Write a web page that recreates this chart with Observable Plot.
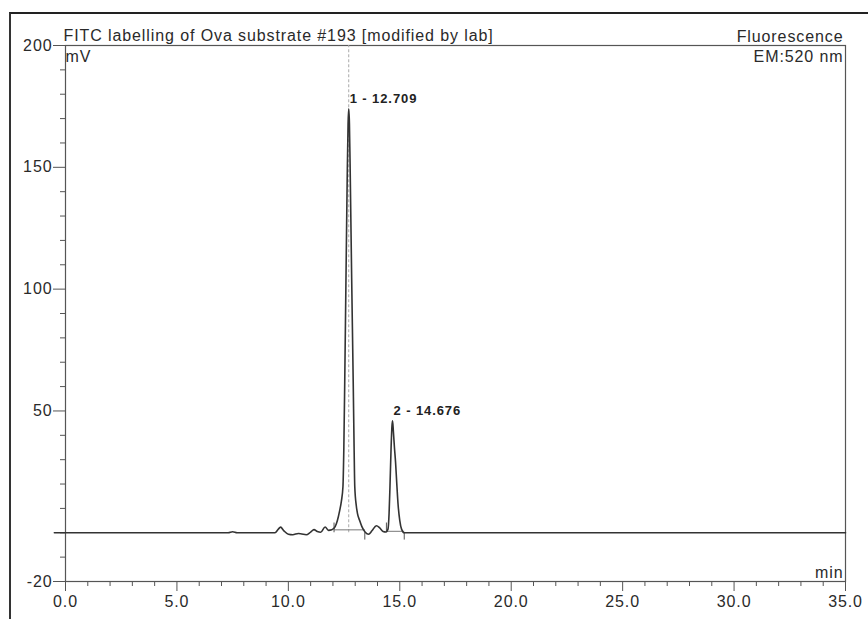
<!DOCTYPE html>
<html>
<head>
<meta charset="utf-8">
<script src="https://cdn.jsdelivr.net/npm/d3@7"></script>
<script src="https://cdn.jsdelivr.net/npm/@observablehq/plot@0.6"></script>
<style>
  html, body { margin: 0; padding: 0; background: #fff; }
  #wrap { position: relative; width: 868px; height: 619px; overflow: hidden; }
  #outer { position: absolute; left: 9px; top: 12px; width: 900px; height: 700px;
           border-top: 2px solid #222; border-left: 2px solid #333; }
  #chart { position: absolute; left: 0; top: 0; }
  #chart text { letter-spacing: 0.9px; }
</style>
</head>
<body>
<div id="wrap"><div id="outer"></div><div id="chart"></div></div>
<script>
// Chromatogram trace (retention time in min, signal in mV)
const times = [-0.5, 7.3, 7.5, 7.7, 9.4, 9.55, 9.65, 9.8, 10.0, 10.2, 10.45, 10.6, 10.8, 11.0, 11.15, 11.3, 11.45, 11.65, 11.8, 11.95,
  12.1, 12.2, 12.3, 12.38, 12.45, 12.49, 12.53, 12.58, 12.64, 12.68, 12.709, 12.74, 12.78, 12.84, 12.91, 12.95, 12.98, 13.05, 13.1, 13.2, 13.3, 13.45,
  13.6, 13.75, 13.95, 14.1, 14.25, 14.38, 14.47, 14.52, 14.56, 14.61, 14.65, 14.676, 14.71, 14.76, 14.81, 14.86, 14.92, 15.0, 15.08, 15.2, 35.0];
const signal = [0, 0, 0.4, 0, 0, 1.5, 2.3, 0.8, -0.6, -0.8, -0.3, -0.5, -0.8, 0.3, 1.3, 0.5, 0.2, 2.4, 1.0, 1.2,
  2.5, 5, 9, 13, 19, 35, 62, 100, 145, 168, 174, 168, 145, 105, 62, 35, 19, 11, 8, 5, 2.5, 0.2,
  -0.6, 0.8, 2.9, 2, 0.5, 0.3, 1.5, 8, 19, 35, 44, 46, 42, 35, 29, 21, 12, 5, 1.5, 0, 0];

// Peaks
const peakTimes = [12.709, 14.676];
const peakHeights = [174, 46];
const peakLabels = ["1 - 12.709", "2 - 14.676"];

// Integration boundaries
const boundTimes = [12.05, 13.43, 14.4, 15.2];
const boundTop = [4, -3, 4, -3];
const intStart = [12.05, 14.4];
const intEnd = [13.43, 15.2];
const intLevel = [1.2, 0.6];

// Axes
const yMajor = [-20, 50, 100, 150, 200];
const yMinor = d3.range(-10, 200, 10).filter(v => !yMajor.includes(v));
const xMajor = [0, 5, 10, 15, 20, 25, 30, 35];
const xMinor = d3.range(1, 35, 1).filter(v => v % 5 !== 0);

const trace = times.map((t, i) => ({t, v: signal[i]}));
const peaks = peakTimes.map((t, i) => ({t, h: peakHeights[i], label: peakLabels[i]}));
const bounds = boundTimes.map((t, i) => ({t, top: boundTop[i]}));
const ints = intStart.map((s, i) => ({s, e: intEnd[i], l: intLevel[i]}));

const font = "Liberation Sans, Arial, sans-serif";

const chart = Plot.plot({
  width: 868,
  height: 619,
  marginLeft: 65,
  marginRight: 23,
  marginTop: 45,
  marginBottom: 38,
  style: {fontFamily: font, fontSize: "16px", color: "#2a2a2a", background: "transparent"},
  x: {domain: [0, 35]},
  y: {domain: [-20, 200]},
  marks: [
    Plot.frame({stroke: "#555", strokeWidth: 1.2}),
    Plot.axisY({ticks: yMajor, tickSize: 12, tickPadding: 1, tickFormat: d => String(d), label: null, fontSize: 16, stroke: "#555"}),
    Plot.axisY({ticks: yMinor, tickSize: 5, text: null, label: null, stroke: "#555"}),
    Plot.axisX({ticks: xMajor, tickSize: 10, tickPadding: 4, tickFormat: d => d.toFixed(1), label: null, fontSize: 16, stroke: "#555"}),
    Plot.axisX({ticks: xMinor, tickSize: 5, text: null, label: null, stroke: "#555"}),
    Plot.ruleX(peaks.slice(0, 1), {x: "t", y1: 0, y2: 200, stroke: "#aaa", strokeDasharray: "3,2", strokeWidth: 1}),
    Plot.link(ints, {x1: "s", x2: "e", y1: "l", y2: "l", stroke: "#777", strokeWidth: 1}),
    Plot.ruleX(bounds, {x: "t", y1: 0, y2: "top", stroke: "#555", strokeWidth: 1}),
    Plot.line(trace, {x: "t", y: "v", stroke: "#333", strokeWidth: 1.6, curve: "monotone-x", clip: false}),
    Plot.text(peaks, {x: "t", y: "h", text: "label", textAnchor: "start", lineAnchor: "middle", dx: 1, dy: -10, fontWeight: "bold", fontSize: 13, fill: "#222"}),
    Plot.text(["FITC labelling of Ova substrate #193 [modified by lab]"], {frameAnchor: "top-left", lineAnchor: "middle", dy: -10, dx: -2, fontSize: 16, fill: "#2a2a2a"}),
    Plot.text(["mV"], {frameAnchor: "top-left", lineAnchor: "middle", dy: 11, dx: 0, fontSize: 16, fill: "#2a2a2a"}),
    Plot.text(["Fluorescence"], {frameAnchor: "top-right", lineAnchor: "middle", dy: -9, dx: -2, fontSize: 16, fill: "#2a2a2a"}),
    Plot.text(["EM:520 nm"], {frameAnchor: "top-right", lineAnchor: "middle", dy: 11, dx: -2, fontSize: 16, fill: "#2a2a2a"}),
    Plot.text(["min"], {frameAnchor: "bottom-right", lineAnchor: "middle", dy: -9, dx: -2, fontSize: 16, fill: "#2a2a2a"})
  ]
});
document.getElementById("chart").appendChild(chart);
</script>
</body>
</html>
